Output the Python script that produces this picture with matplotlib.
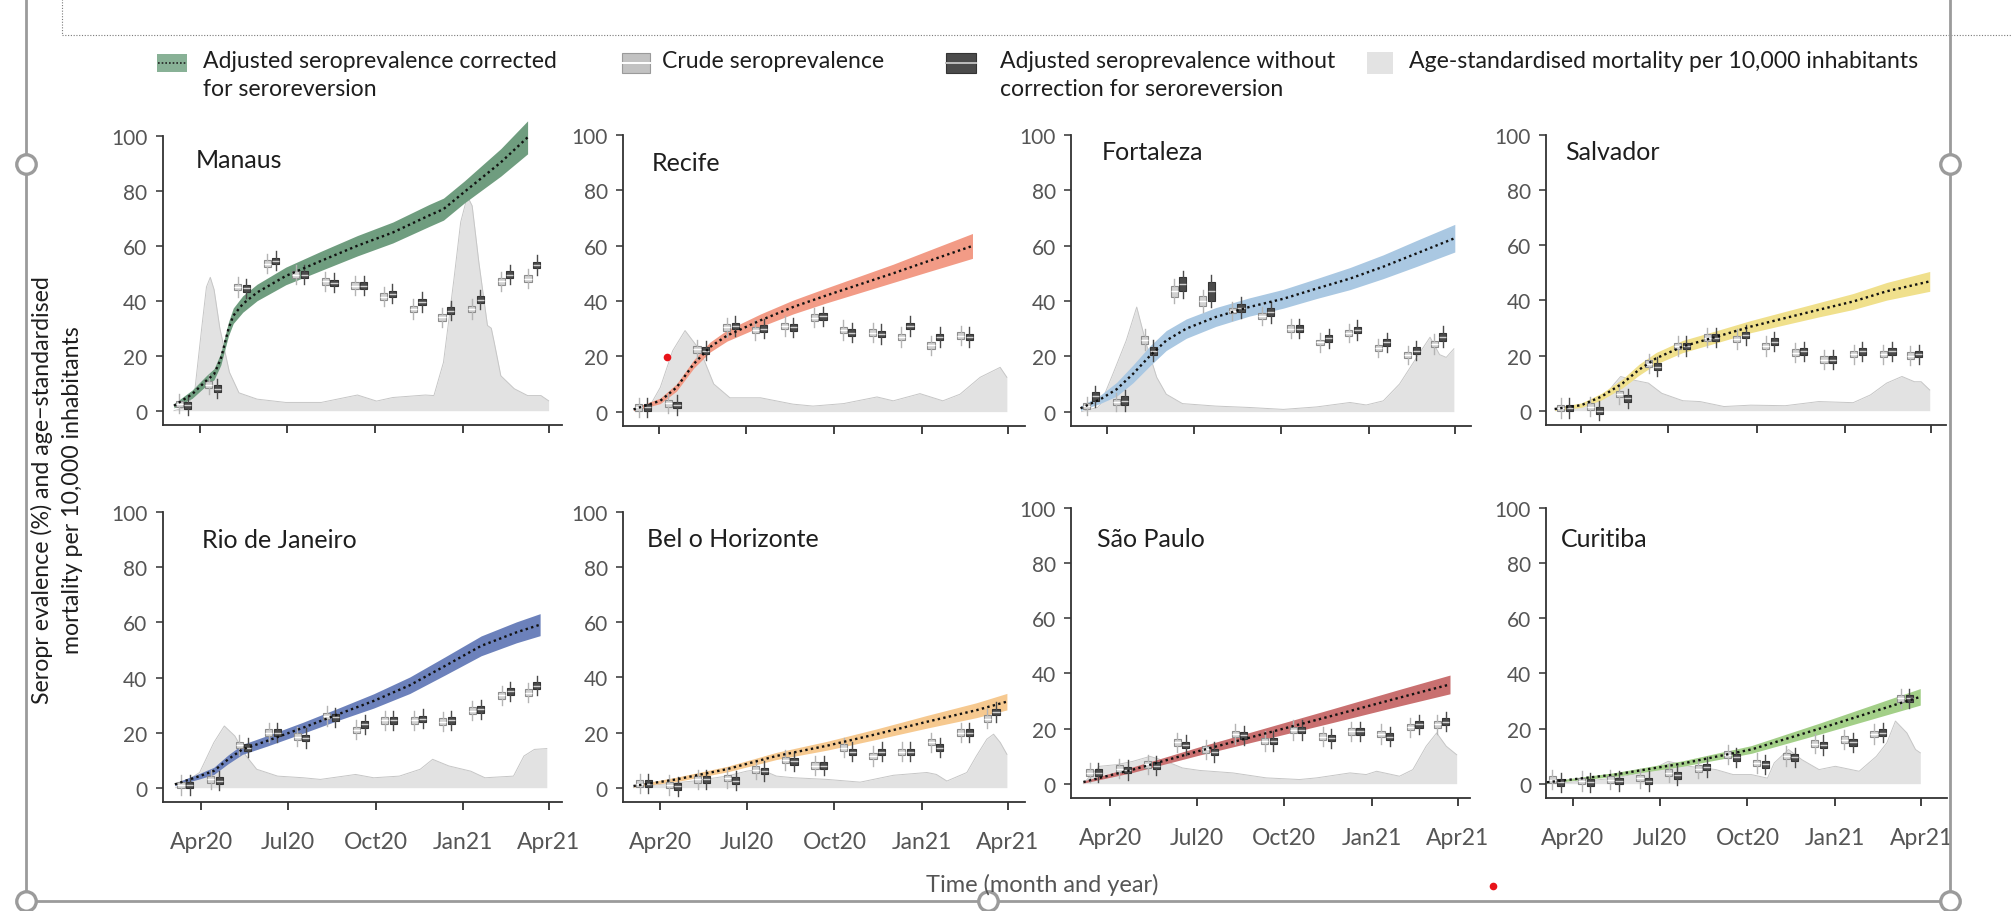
import matplotlib
matplotlib.use('Agg')
import matplotlib.pyplot as plt
import matplotlib.dates as mdates
import matplotlib.transforms as mtransforms
from matplotlib.lines import Line2D
from matplotlib.patches import Rectangle
import pandas as pd

plt.rcParams['font.family'] = ['Lato', 'DejaVu Sans']

W, H = 2011, 912
YMIN, YMAX = -5.2, 108

# ---------------- data ----------------
TICK_DATES = ['2020-04-01', '2020-07-01', '2020-10-01', '2021-01-01', '2021-04-01']
TICK_LABELS = ['Apr20', 'Jul20', 'Oct20', 'Jan21', 'Apr21']
BOX_MONTHS = ['2020-03', '2020-04', '2020-05', '2020-06', '2020-07', '2020-08', '2020-09',
              '2020-10', '2020-11', '2020-12', '2021-01', '2021-02', '2021-03']

# Manaus
manaus_curve_dates = ['2020-03-05', '2020-03-24', '2020-04-08', '2020-04-16', '2020-04-23', '2020-05-01',
                      '2020-05-06', '2020-05-16', '2020-05-31', '2020-06-30', '2020-08-06', '2020-09-13',
                      '2020-10-20', '2020-11-27', '2020-12-12', '2021-01-03', '2021-02-10', '2021-03-10']
manaus_mid = [1.8, 6, 11, 13.3, 18.8, 29.7, 34.5, 38.8, 43, 49, 54.5, 60, 64.8, 71, 73.3, 79.6, 90.3, 99.4]
manaus_lo = [1.0, 4.5, 9.2, 11.3, 16.6, 27.2, 31.7, 35.8, 40.0, 45.8, 51.0, 56.3, 61.0, 67.0, 69.3, 75.6, 85.3, 93.4]
manaus_hi = [2.6, 7.5, 12.8, 15.3, 21.0, 32.2, 37.3, 41.8, 46.0, 52.2, 58.0, 63.7, 68.6, 75.0, 77.3, 83.6, 95.3, 105.4]
manaus_mort_dates = ['2020-03-05', '2020-03-20', '2020-03-27', '2020-04-03', '2020-04-08', '2020-04-12',
                     '2020-04-16', '2020-04-22', '2020-05-02', '2020-05-12', '2020-05-31', '2020-06-30',
                     '2020-08-06', '2020-09-13', '2020-10-03', '2020-10-20', '2020-11-23', '2020-12-02',
                     '2020-12-12', '2020-12-23', '2020-12-30', '2021-01-06', '2021-01-11', '2021-01-18',
                     '2021-01-27', '2021-01-31', '2021-02-03', '2021-02-10', '2021-02-24', '2021-03-10',
                     '2021-03-24', '2021-04-01']
manaus_mort = [0, 1.5, 8, 30, 45, 48.5, 44, 30, 14, 6.5, 4.2, 3, 3, 5.7, 3.5, 4.8, 5.7, 5.5,
               17.6, 48, 68.6, 78, 74.5, 54, 31, 30, 25, 12.7, 8, 5.5, 5.5, 3.6]
manaus_crude = [2.5, 9.5, 45, 53.5, 49.5, 47, 45.5, 41.5, 37, 34, 37, 47, 48]
manaus_adj = [2, 8, 44.5, 54.5, 49.5, 46.5, 45.5, 42.5, 39.5, 36.4, 40.4, 49.5, 53]

# Recife
recife_curve_dates = ['2020-03-05', '2020-04-02', '2020-04-19', '2020-05-07', '2020-05-24', '2020-06-11',
                      '2020-07-16', '2020-08-19', '2020-09-23', '2020-10-28', '2020-12-02', '2021-01-06',
                      '2021-02-23']
recife_mid = [0.8, 3.9, 8.7, 17.2, 23.3, 27.5, 33, 37.8, 42, 46, 50, 54.2, 59.9]
recife_lo = [0.3, 2.9, 7.4, 15.7, 21.5, 25.5, 30.7, 35.3, 39.3, 43.0, 46.7, 50.4, 55.4]
recife_hi = [1.3, 4.9, 10.0, 18.7, 25.1, 29.5, 35.3, 40.3, 44.7, 49.0, 53.3, 58.0, 64.4]
recife_mort_dates = ['2020-03-07', '2020-03-22', '2020-04-02', '2020-04-15', '2020-04-28', '2020-05-14',
                     '2020-05-28', '2020-06-14', '2020-07-16', '2020-08-19', '2020-09-09', '2020-10-11',
                     '2020-11-15', '2020-12-02', '2020-12-30', '2021-01-23', '2021-02-10', '2021-03-03',
                     '2021-03-24', '2021-03-31']
recife_mort = [0, 2, 8.7, 22, 29.3, 22, 10, 5, 5, 2.7, 2, 2.9, 5.3, 3.9, 6.5, 3.9, 6.3, 12.4, 16, 12.4]
recife_crude = [1.5, 3.0, 22.5, 30.5, 29.5, 31, 34, 29.5, 28.5, 27, 24, 27.5]
recife_adj = [1.5, 2.4, 22, 31, 30, 30.5, 34.5, 28.5, 28, 31, 27, 27]

# Fortaleza
fortaleza_curve_dates = ['2020-03-04', '2020-03-25', '2020-04-11', '2020-04-28', '2020-05-16', '2020-06-02',
                         '2020-06-23', '2020-07-24', '2020-08-28', '2020-10-03', '2020-11-07', '2020-12-12',
                         '2021-01-16', '2021-02-20', '2021-04-01']
fortaleza_mid = [1.2, 4.5, 8.1, 13.6, 20.2, 25.7, 30, 34.2, 37.8, 40.8, 44.5, 48.1, 52.4, 57.2, 62.7]
fortaleza_lo = [0.4, 3.0, 5.6, 10.4, 16.6, 22.1, 26.5, 30.8, 34.5, 37.4, 40.9, 44.1, 48.1, 52.5, 57.7]
fortaleza_hi = [2.0, 6.0, 10.6, 16.8, 23.8, 29.3, 33.5, 37.6, 41.1, 44.2, 48.1, 52.1, 56.7, 61.9, 67.7]
fortaleza_mort_dates = ['2020-03-05', '2020-03-22', '2020-03-25', '2020-04-07', '2020-04-21', '2020-05-02',
                        '2020-05-12', '2020-05-23', '2020-06-02', '2020-06-19', '2020-07-24', '2020-08-28',
                        '2020-10-03', '2020-11-07', '2020-12-12', '2020-12-29', '2021-01-16', '2021-02-02',
                        '2021-02-20', '2021-03-06', '2021-03-16', '2021-03-23', '2021-03-31']
fortaleza_mort = [0, 1.5, 2.7, 13.6, 25.7, 37.8, 24.5, 12.4, 6.3, 2.9, 2, 1.5, 0.8, 1.7, 3.3, 2.4, 3.9,
                  10, 19.6, 26.9, 20.6, 19.6, 22.7]
fortaleza_crude = [2, 3.5, 26, 43.5, 40, 36.5, 34.5, 30, 25, 28.5, 23, 20.5, 24.5]
fortaleza_adj = [5.5, 4, 22, 46, 43.5, 37.5, 36, 30, 26.5, 29.5, 25, 22, 27]
fortaleza_crude_half = [1, 1, 1.5, 2, 1.8, 1, 1, 1.2, 1, 1, 1, 1, 1.2]
fortaleza_adj_half = [1.5, 1.5, 1.5, 2.5, 3.5, 1.5, 1.5, 1.2, 1.2, 1.2, 1.2, 1.2, 1.5]

# Salvador
salvador_curve_dates = ['2020-03-04', '2020-04-01', '2020-04-22', '2020-05-14', '2020-05-31', '2020-06-18',
                        '2020-07-16', '2020-08-21', '2020-09-25', '2020-10-31', '2020-12-05', '2021-01-10',
                        '2021-02-14', '2021-03-31']
salvador_mid = [0.6, 2, 5.1, 9.9, 14.8, 19, 23.3, 26.9, 30.5, 33.6, 36.6, 39.6, 43.3, 46.9]
salvador_lo = [0.1, 1.2, 3.9, 8.3, 12.8, 16.9, 21.1, 24.7, 28.3, 31.2, 34.0, 36.7, 40.1, 43.3]
salvador_hi = [1.1, 2.8, 6.3, 11.5, 16.8, 21.1, 25.5, 29.1, 32.7, 36.0, 39.2, 42.5, 46.5, 50.5]
salvador_mort_dates = ['2020-03-05', '2020-04-01', '2020-04-22', '2020-05-06', '2020-05-12', '2020-05-24',
                       '2020-06-10', '2020-06-24', '2020-07-16', '2020-08-03', '2020-08-28', '2020-09-25',
                       '2020-10-31', '2020-12-05', '2021-01-10', '2021-01-28', '2021-02-14', '2021-03-02',
                       '2021-03-15', '2021-03-22', '2021-03-31']
salvador_mort = [0, 1.5, 3.9, 10, 12.4, 11.2, 10, 6.3, 3.6, 3.3, 1.5, 2, 1.8, 3.3, 2.9, 5.7, 10, 12.4,
                 10.5, 10.5, 7.5]
salvador_crude = [1, 1.5, 6, 17, 23.5, 26.5, 26, 23.5, 21, 18.5, 20.5, 20.5, 20]
salvador_adj = [1, 0, 4.5, 16, 23.5, 26.5, 27.5, 25, 21.5, 18.5, 21.5, 21.5, 20.5]

# Rio de Janeiro
rio_curve_dates = ['2020-03-04', '2020-03-30', '2020-04-14', '2020-04-29', '2020-05-14', '2020-06-09',
                   '2020-07-17', '2020-08-23', '2020-09-29', '2020-11-06', '2020-12-13', '2021-01-20',
                   '2021-02-26', '2021-03-23']
rio_mid = [1.2, 4.2, 6.1, 10.3, 13.9, 17, 21.8, 26.7, 31.5, 37.2, 44.2, 51.5, 56.4, 59.2]
rio_lo = [0.7, 3.2, 4.8, 8.7, 12.1, 15.1, 19.8, 24.5, 28.9, 34.2, 40.9, 47.9, 52.6, 55.2]
rio_hi = [1.7, 5.2, 7.4, 11.9, 15.7, 18.9, 23.8, 28.9, 34.1, 40.2, 47.5, 55.1, 60.2, 63.2]
rio_mort_dates = ['2020-03-05', '2020-03-30', '2020-04-14', '2020-04-25', '2020-05-06', '2020-05-18',
                  '2020-05-29', '2020-06-20', '2020-07-17', '2020-08-04', '2020-09-10', '2020-09-29',
                  '2020-10-26', '2020-11-17', '2020-11-30', '2020-12-17', '2021-01-09', '2021-01-24',
                  '2021-02-23', '2021-03-06', '2021-03-17', '2021-03-30']
rio_mort = [0, 5.5, 16.4, 22.4, 18.8, 11.5, 6.7, 4.2, 3.6, 3, 4.8, 3.6, 4.2, 6.7, 10.3, 7.9, 6, 3.6,
            4.2, 11.5, 13.9, 14.2]
rio_crude = [1, 3, 15.5, 20, 18.5, 26, 21, 24.5, 24.5, 24, 28, 33.5, 34.5]
rio_adj = [1, 2.5, 14.5, 20, 18, 25.5, 23, 24.5, 25, 24.5, 28.5, 35, 37]

# Belo Horizonte
bh_curve_dates = ['2020-03-04', '2020-04-18', '2020-06-10', '2020-08-01', '2020-09-23', '2020-11-14',
                  '2021-01-06', '2021-02-27', '2021-03-31']
bh_mid = [0.6, 3, 6.7, 11.5, 15.2, 19.4, 23.9, 28.1, 31.2]
bh_lo = [0.2, 2.2, 5.7, 10.2, 13.6, 17.5, 21.6, 25.4, 28.2]
bh_hi = [1.0, 3.8, 7.7, 12.8, 16.8, 21.3, 26.2, 30.8, 34.2]
bh_mort_dates = ['2020-03-04', '2020-04-01', '2020-05-06', '2020-06-10', '2020-07-01', '2020-07-15',
                 '2020-08-01', '2020-08-19', '2020-09-23', '2020-10-28', '2020-12-02', '2021-01-06',
                 '2021-01-16', '2021-01-27', '2021-02-17', '2021-02-27', '2021-03-10', '2021-03-17',
                 '2021-03-24', '2021-03-31']
bh_mort = [0, 1.2, 2.4, 4.2, 6, 6.7, 4.2, 3.6, 3, 2, 4.5, 5.5, 4.8, 2.4, 5.5, 11.5, 17.6, 19.4, 16.4, 12.1]
bh_crude = [1.5, 1, 3, 3.5, 6.5, 10, 8, 14.5, 11.5, 13, 16.5, 20, 25]
bh_adj = [1.5, 0.5, 3, 2.5, 6, 9.5, 8, 13, 13, 13, 14.5, 20, 27.5]

# Sao Paulo
sp_curve_dates = ['2020-03-04', '2020-04-25', '2020-07-04', '2020-09-12', '2020-11-21', '2021-01-30',
                  '2021-03-24']
sp_mid = [0.6, 5.1, 11.9, 18.3, 24.7, 31.2, 36]
sp_lo = [0.2, 4.1, 10.4, 16.3, 22.2, 28.2, 32.6]
sp_hi = [1.0, 6.1, 13.4, 20.3, 27.2, 34.2, 39.4]
sp_mort_dates = ['2020-03-04', '2020-03-14', '2020-03-21', '2020-04-08', '2020-04-25', '2020-05-13',
                 '2020-05-30', '2020-06-16', '2020-07-04', '2020-08-08', '2020-09-12', '2020-10-17',
                 '2020-11-04', '2020-12-09', '2020-12-26', '2021-01-06', '2021-01-30', '2021-02-13',
                 '2021-02-27', '2021-03-10', '2021-03-20', '2021-03-31']
sp_mort = [0, 3.9, 6.3, 6.9, 8.1, 9.9, 8.1, 5.7, 4.8, 3.9, 2.1, 1.5, 2.1, 3.9, 3.3, 4.5, 2.7, 5.1,
           13.6, 18.4, 13.6, 10.5]
sp_crude = [4, 5.5, 7, 15, 12.5, 18, 15.5, 19.5, 17, 19, 18, 20.5, 21.5]
sp_adj = [4, 5, 6.5, 14, 11.5, 17.5, 15.5, 19.5, 16.5, 19, 17, 21.5, 22.5]

# Curitiba
curitiba_curve_dates = ['2020-03-05', '2020-05-15', '2020-07-25', '2020-10-05', '2020-12-15', '2021-02-06',
                        '2021-03-31']
curitiba_mid = [0.5, 3.3, 7.3, 12.4, 19.9, 25.7, 31.5]
curitiba_lo = [0.2, 2.6, 6.3, 11.0, 17.9, 23.2, 28.5]
curitiba_hi = [0.8, 4.0, 8.3, 13.8, 21.9, 28.2, 34.5]
curitiba_mort_dates = ['2020-03-05', '2020-04-10', '2020-05-15', '2020-06-19', '2020-07-10', '2020-08-01',
                       '2020-08-29', '2020-09-16', '2020-10-05', '2020-10-22', '2020-10-29', '2020-11-13',
                       '2020-11-27', '2020-12-15', '2021-01-01', '2021-01-26', '2021-02-13', '2021-02-24',
                       '2021-03-05', '2021-03-17', '2021-03-26', '2021-03-31']
curitiba_mort = [0, 0.8, 2, 4.5, 8.1, 6.3, 5.1, 3.3, 3.3, 2, 7.5, 12.4, 8.7, 5.1, 6.3, 4.5, 9.9, 14.8,
                 22.7, 18.4, 12.4, 11.2]
curitiba_crude = [1.5, 1, 1.5, 2, 4, 5.5, 10.5, 7.5, 10, 14.5, 16, 18, 31]
curitiba_adj = [0.5, 0.5, 1, 1, 3, 6, 9.5, 7, 9.5, 14, 15, 18.5, 31]

# ---------------- layout (pixel positions in the 2011x912 picture) ----------------
# (left, right, y of 100 tick, y of x axis line), x limits, title position, band colour
PANELS = [
    ('Manaus', (162.5, 562, 136.7, 426), ('2020-02-22', '2021-04-15'), (0.084, 91.5), '#6f9d7f',
     (manaus_curve_dates, manaus_mid, manaus_lo, manaus_hi), (manaus_mort_dates, manaus_mort),
     manaus_crude, manaus_adj, None, None, False),
    ('Recife', (623, 1025, 136, 427), ('2020-02-23', '2021-04-19'), (0.072, 90), '#f29b86',
     (recife_curve_dates, recife_mid, recife_lo, recife_hi), (recife_mort_dates, recife_mort),
     recife_crude, recife_adj, None, None, False),
    ('Fortaleza', (1071, 1471, 136, 427), ('2020-02-23', '2021-04-18'), (0.077, 94), '#aac8e2',
     (fortaleza_curve_dates, fortaleza_mid, fortaleza_lo, fortaleza_hi), (fortaleza_mort_dates, fortaleza_mort),
     fortaleza_crude, fortaleza_adj, fortaleza_crude_half, fortaleza_adj_half, False),
    ('Salvador', (1546, 1946, 136, 426), ('2020-02-24', '2021-04-17'), (0.048, 94), '#f0e08c',
     (salvador_curve_dates, salvador_mid, salvador_lo, salvador_hi), (salvador_mort_dates, salvador_mort),
     salvador_crude, salvador_adj, None, None, False),
    ('Rio de Janeiro', (162.5, 562, 513.3, 803), ('2020-02-20', '2021-04-15'), (0.099, 90), '#6c81bb',
     (rio_curve_dates, rio_mid, rio_lo, rio_hi), (rio_mort_dates, rio_mort),
     rio_crude, rio_adj, None, None, True),
    ('Bel o Horizonte', (623, 1025, 513, 803), ('2020-02-22', '2021-04-19'), (0.06, 90.5), '#f6c990',
     (bh_curve_dates, bh_mid, bh_lo, bh_hi), (bh_mort_dates, bh_mort),
     bh_crude, bh_adj, None, None, True),
    ('São Paulo', (1071, 1470, 509, 799), ('2020-02-20', '2021-04-14'), (0.065, 89), '#c97070',
     (sp_curve_dates, sp_mid, sp_lo, sp_hi), (sp_mort_dates, sp_mort),
     sp_crude, sp_adj, None, None, True),
    ('Curitiba', (1546, 1947, 509, 799), ('2020-03-04', '2021-04-28'), (0.037, 89), '#a3cf88',
     (curitiba_curve_dates, curitiba_mid, curitiba_lo, curitiba_hi), (curitiba_mort_dates, curitiba_mort),
     curitiba_crude, curitiba_adj, None, None, True),
]

TICK_COL = '#555555'
AXIS_COL = '#333333'
TEXT_COL = '#1e1e1e'

fig = plt.figure(figsize=(W / 100, H / 100), dpi=100)


def fx(x):
    return x / W


def fy(y):
    return 1 - y / H


def box_stats(values, halves, default_half=1.2, whisker=2.3):
    stats = []
    for i, v in enumerate(values):
        h = halves[i] if halves is not None else default_half
        stats.append(dict(med=v, q1=v - h, q3=v + h, whislo=v - h - whisker, whishi=v + h + whisker))
    return stats


def draw_panel(name, rect, xlim, title_pos, color, curve, mort, crude, adj, crude_half, adj_half, labels):
    left, right, y100, yaxis = rect
    ppu = (yaxis - y100) / (100 - YMIN)
    top = y100 - (YMAX - 100) * ppu
    ax = fig.add_axes([fx(left), fy(yaxis), (right - left) / W, (yaxis - top) / H])
    ax.set_ylim(YMIN, YMAX)
    x0, x1 = pd.to_datetime(list(xlim))
    ax.set_xlim(mdates.date2num(x0), mdates.date2num(x1))

    # mortality area
    md = mdates.date2num(pd.to_datetime(mort[0]))
    ax.fill_between(md, 0, mort[1], color='#e2e2e2', lw=0, zorder=1)
    ax.plot(md, mort[1], color='#c6c6c6', lw=0.7, zorder=1.1)

    # model band
    cd = mdates.date2num(pd.to_datetime(curve[0]))
    ax.fill_between(cd, curve[2], curve[3], color=color, lw=0, zorder=2)

    # monthly boxes: crude left, adjusted right
    months = pd.to_datetime(BOX_MONTHS[:len(crude)]) + pd.Timedelta(days=14)
    pos_c = mdates.date2num(months - pd.Timedelta(days=4.5))
    pos_a = mdates.date2num(months + pd.Timedelta(days=4.5))
    ax.bxp(box_stats(crude, crude_half), positions=pos_c, widths=7.5, patch_artist=True,
           showfliers=False, showcaps=False, manage_ticks=False, zorder=3,
           boxprops=dict(facecolor='#d2d2d2', edgecolor='#8c8c8c', lw=0.8),
           medianprops=dict(color='#ffffff', lw=1.0),
           whiskerprops=dict(color='#b4b4b4', lw=1.0))
    ax.bxp(box_stats(adj, adj_half), positions=pos_a, widths=7.5, patch_artist=True,
           showfliers=False, showcaps=False, manage_ticks=False, zorder=3.2,
           boxprops=dict(facecolor='#4b4b4b', edgecolor='#333333', lw=0.8),
           medianprops=dict(color='#d0d0d0', lw=1.0),
           whiskerprops=dict(color='#4b4b4b', lw=1.0))

    # median curve
    ax.plot(cd, curve[1], color='#111111', lw=1.7, ls=(0, (1, 1.4)), zorder=4)

    ax.set_yticks([0, 20, 40, 60, 80, 100])
    ax.set_xticks(mdates.date2num(pd.to_datetime(TICK_DATES)))
    ax.set_xticklabels(TICK_LABELS)
    ax.tick_params(axis='x', length=6, width=1.3, color=AXIS_COL, pad=15,
                   labelsize=16.5, labelcolor=TICK_COL, labelbottom=labels)
    ax.tick_params(axis='y', length=4.8, width=1.1, color=AXIS_COL, pad=6,
                   labelsize=15, labelcolor=TICK_COL)
    for s in ['top', 'right']:
        ax.spines[s].set_visible(False)
    ax.spines['left'].set_bounds(YMIN, 100)
    for s in ['left', 'bottom']:
        ax.spines[s].set_color(AXIS_COL)
        ax.spines[s].set_linewidth(1.3)
    ax.patch.set_alpha(0)

    tr = mtransforms.blended_transform_factory(ax.transAxes, ax.transData)
    ax.text(title_pos[0], title_pos[1], name, transform=tr, fontsize=18, color=TEXT_COL,
            ha='left', va='center')


for p in PANELS:
    draw_panel(*p)

# ---------------- legend ----------------
LEG_FS = 16.6
fig.add_artist(Rectangle((fx(157), fy(73)), 30 / W, 18 / H, transform=fig.transFigure,
                         facecolor='#88b196', edgecolor='none'))
fig.add_artist(Line2D([fx(158), fx(186)], [fy(64), fy(64)], transform=fig.transFigure,
                      color='#222222', lw=1.2, ls=(0, (1, 1.2))))
fig.text(fx(203), fy(62), 'Adjusted seroprevalence corrected', fontsize=LEG_FS, color=TEXT_COL, va='center')
fig.text(fx(203), fy(90), 'for seroreversion', fontsize=LEG_FS, color=TEXT_COL, va='center')

fig.add_artist(Rectangle((fx(622), fy(74)), 28 / W, 20 / H, transform=fig.transFigure,
                         facecolor='#c2c2c2', edgecolor='#9a9a9a', lw=0.8))
fig.add_artist(Line2D([fx(622), fx(650)], [fy(64), fy(64)], transform=fig.transFigure,
                      color='#ffffff', lw=1.4))
fig.text(fx(662), fy(62), 'Crude seroprevalence', fontsize=LEG_FS, color=TEXT_COL, va='center')

fig.add_artist(Rectangle((fx(946), fy(74)), 30 / W, 20 / H, transform=fig.transFigure,
                         facecolor='#4b4b4b', edgecolor='#333333', lw=0.8))
fig.add_artist(Line2D([fx(946), fx(976)], [fy(64), fy(64)], transform=fig.transFigure,
                      color='#bdbdbd', lw=1.4))
fig.text(fx(1000), fy(62), 'Adjusted seroprevalence without', fontsize=LEG_FS, color=TEXT_COL, va='center')
fig.text(fx(1000), fy(90), 'correction for seroreversion', fontsize=LEG_FS, color=TEXT_COL, va='center')

fig.add_artist(Rectangle((fx(1367), fy(75)), 26 / W, 22 / H, transform=fig.transFigure,
                         facecolor='#e3e3e3', edgecolor='none'))
fig.text(fx(1409), fy(62), 'Age-standardised mortality per 10,000 inhabitants', fontsize=LEG_FS,
         color=TEXT_COL, va='center')

# ---------------- axis titles ----------------
fig.text(fx(42), fy(490), 'Seropr evalence (%) and age\u2212standardised', rotation=90,
         fontsize=16.7, color=TEXT_COL, ha='center', va='center')
fig.text(fx(73), fy(490), 'mortality per 10,000 inhabitants', rotation=90,
         fontsize=16.7, color=TEXT_COL, ha='center', va='center')
fig.text(fx(1042), fy(885), 'Time (month and year)', fontsize=17, color='#555555',
         ha='center', va='center')

# ---------------- editor frame around the screenshot ----------------
FRAME = '#9b9b9b'
fig.add_artist(Line2D([fx(62), fx(2011)], [fy(36), fy(36)], transform=fig.transFigure,
                      color='#7a7a7a', lw=0.8, ls=(0, (1, 1.5))))
fig.add_artist(Line2D([fx(62), fx(62)], [fy(0), fy(36)], transform=fig.transFigure,
                      color='#7a7a7a', lw=0.8, ls=(0, (1, 1.5))))
fig.add_artist(Line2D([fx(25.5), fx(25.5)], [fy(0), fy(902)], transform=fig.transFigure,
                      color=FRAME, lw=2))
fig.add_artist(Line2D([fx(1950), fx(1950)], [fy(0), fy(902)], transform=fig.transFigure,
                      color=FRAME, lw=2))
fig.add_artist(Line2D([fx(25.5), fx(1950)], [fy(902), fy(902)], transform=fig.transFigure,
                      color=FRAME, lw=2))
for hx, hy in [(25.5, 165), (1950, 165), (25.5, 902), (988, 902), (1950, 902)]:
    fig.add_artist(Line2D([fx(hx)], [fy(hy)], transform=fig.transFigure, marker='o',
                          markersize=14, markerfacecolor='white', markeredgecolor=FRAME,
                          markeredgewidth=2.4))
for rx, ry in [(667, 358), (1493, 887)]:
    fig.add_artist(Line2D([fx(rx)], [fy(ry)], transform=fig.transFigure, marker='o',
                          markersize=5.5, markerfacecolor='#e8141a', markeredgecolor='none'))

fig.savefig('out.png', dpi=100)
